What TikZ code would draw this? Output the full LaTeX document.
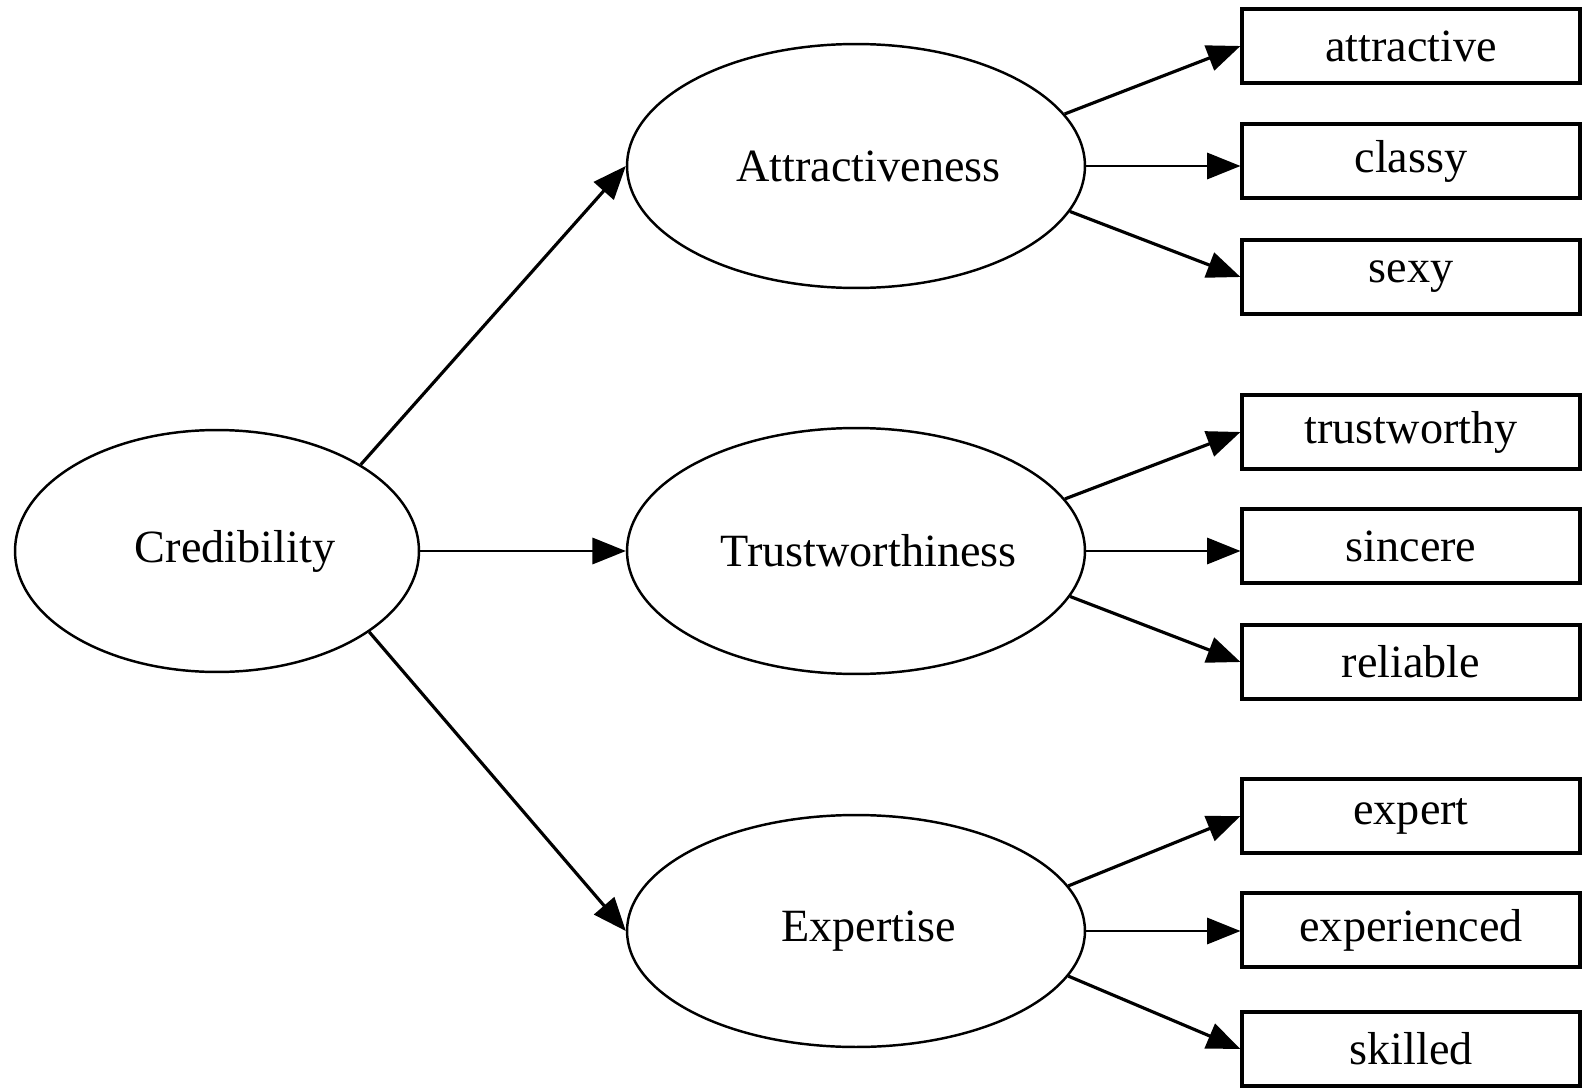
\documentclass[tikz,border=0pt]{standalone}
\usepackage{fontspec}
\setmainfont{Liberation Serif}
\usetikzlibrary{shapes.geometric,arrows.meta}
\begin{document}
\begin{tikzpicture}[x=0.02cm,y=-0.02cm,
  ell/.style={draw,ellipse,line width=1.4pt,inner sep=0pt,minimum width=9.16cm,minimum height=4.88cm,font=\fontsize{26.3}{30}\selectfont},
  box/.style={draw,rectangle,line width=1.8pt,minimum width=6.76cm,minimum height=1.48cm,inner sep=0pt,font=\fontsize{26.3}{30}\selectfont},
  arr/.style={-{Triangle[length=19pt,width=15pt]},line width=1.8pt},
  harr/.style={-{Triangle[length=19pt,width=15pt]},line width=1.2pt}]
\path[fill=white] (0,0) rectangle (1583,1088);
\node[ell,minimum width=8.08cm,minimum height=4.84cm] (cred) at (217,551) {\hspace*{0.72cm}\raisebox{-0.07cm}{Credibility}};
\node[ell] (attr) at (856,166) {\hspace*{0.5cm}\raisebox{-0.05cm}{Attractiveness}};
\node[ell,minimum height=4.92cm] (trust) at (856,551) {\hspace*{0.5cm}\raisebox{-0.05cm}{Trustworthiness}};
\node[ell,minimum height=4.64cm] (exp) at (856,931) {\hspace*{0.5cm}\raisebox{-0.05cm}{Expertise}};
\node[box] (a1) at (1411,46) {\raisebox{-0.05cm}{attractive}};
\node[box] (a2) at (1411,161) {\raisebox{-0.05cm}{classy}};
\node[box] (a3) at (1411,277) {\raisebox{-0.05cm}{sexy}};
\node[box] (t1) at (1411,432) {\raisebox{-0.05cm}{trustworthy}};
\node[box] (t2) at (1411,546) {\raisebox{-0.05cm}{sincere}};
\node[box] (t3) at (1411,662) {\raisebox{-0.05cm}{reliable}};
\node[box] (e1) at (1411,816) {\raisebox{-0.05cm}{expert}};
\node[box] (e2) at (1411,930) {\raisebox{-0.05cm}{experienced}};
\node[box] (e3) at (1411,1049) {\raisebox{-0.05cm}{skilled}};
\draw[arr] (cred.31) -- (attr.west);
\draw[harr] (cred.east) -- (cred.east -| trust.west);
\draw[arr] (cred.-28) -- (exp.west);
\draw[arr] (attr.14) -- (a1.west);
\draw[harr] (attr.east) -- (attr.east -| a2.west);
\draw[arr] (attr.-12) -- (a3.west);
\draw[arr] (trust.14) -- (t1.west);
\draw[harr] (trust.east) -- (trust.east -| t2.west);
\draw[arr] (trust.-12) -- (t3.west);
\draw[arr] (exp.12) -- (e1.west);
\draw[harr] (exp.east) -- (exp.east -| e2.west);
\draw[arr] (exp.-12) -- (e3.west);
\end{tikzpicture}
\end{document}
